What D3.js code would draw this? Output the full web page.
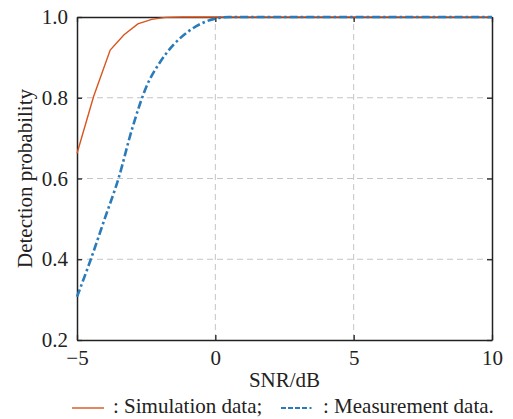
<!DOCTYPE html>
<html>
<head>
<meta charset="utf-8">
<script src="https://cdn.jsdelivr.net/npm/d3@7"></script>
<style>
  body { margin: 0; background: #fff; }
  svg text { font-family: "Liberation Serif", "Times New Roman", serif; fill: #222; }
</style>
</head>
<body>
<svg id="chart" width="513" height="419"></svg>
<script>
// detection probability vs SNR
var simSnr  = [-5, -4.4, -3.8, -3.3, -2.8, -2.3, -1.8, -1.2, 0, 2, 4, 6, 8, 10];
var simPd   = [0.662, 0.803, 0.918, 0.956, 0.983, 0.994, 0.999, 1, 1, 1, 1, 1, 1, 1];
var measSnr = [-5, -4.5, -4, -3.5, -3, -2.5, -2, -1.5, -1, -0.5, 0, 0.5, 1, 2, 4, 6, 8, 10];
var measPd  = [0.307, 0.40, 0.50, 0.60, 0.725, 0.826, 0.888, 0.932, 0.963, 0.984, 0.996, 1, 1, 1, 1, 1, 1, 1];
var xTicks = [-5, 0, 5, 10];
var yTicks = [0.2, 0.4, 0.6, 0.8, 1.0];

var m = {left: 77, right: 21, top: 17, bottom: 79};
var W = 513, H = 419;
var FS = "21px";
var svg = d3.select("#chart");

var x = d3.scaleLinear().domain([-5, 10]).range([m.left, W - m.right]);
var y = d3.scaleLinear().domain([0.2, 1.0]).range([H - m.bottom, m.top]);

var g = svg.append("g");

// dashed grid, inner lines only
g.selectAll(".gx").data(xTicks.slice(1, -1)).enter().append("line")
    .attr("x1", function(d) { return x(d); }).attr("x2", function(d) { return x(d); })
    .attr("y1", y(0.2)).attr("y2", y(1))
    .attr("stroke", "#c4c4c4").attr("stroke-width", 1).attr("stroke-dasharray", "6,4");
g.selectAll(".gy").data(yTicks.slice(1, -1)).enter().append("line")
    .attr("x1", x(-5)).attr("x2", x(10))
    .attr("y1", function(d) { return y(d); }).attr("y2", function(d) { return y(d); })
    .attr("stroke", "#c4c4c4").attr("stroke-width", 1).attr("stroke-dasharray", "6,4");

// axes with inward ticks on all four sides
var fmtY = d3.format(".1f");
function styleAxis(sel) {
  sel.select(".domain").attr("stroke", "#222").attr("stroke-width", 1.5);
  sel.selectAll(".tick line").attr("stroke", "#222").attr("stroke-width", 1.3);
  sel.selectAll(".tick text").style("font-size", FS).attr("fill", "#222");
}
svg.append("g").attr("transform", "translate(0," + y(0.2) + ")")
  .call(d3.axisBottom(x).tickValues(xTicks).tickSizeInner(-5).tickSizeOuter(0).tickPadding(10)
        .tickFormat(function(d) { return d < 0 ? "\u2212" + Math.abs(d) : d; }))
  .call(styleAxis);
svg.append("g").attr("transform", "translate(" + x(-5) + ",0)")
  .call(d3.axisLeft(y).tickValues(yTicks).tickSizeInner(-5).tickSizeOuter(0).tickPadding(9).tickFormat(fmtY))
  .call(styleAxis);
svg.append("g").attr("transform", "translate(0," + y(1) + ")")
  .call(d3.axisTop(x).tickValues(xTicks).tickSizeInner(-5).tickSizeOuter(0).tickFormat(""))
  .call(styleAxis);
svg.append("g").attr("transform", "translate(" + x(10) + ",0)")
  .call(d3.axisRight(y).tickValues(yTicks).tickSizeInner(-5).tickSizeOuter(0).tickFormat(""))
  .call(styleAxis);

// curves
var simLine = d3.line()
    .x(function(d, i) { return x(simSnr[i]); })
    .y(function(d) { return y(d); });
var measLine = d3.line()
    .x(function(d, i) { return x(measSnr[i]); })
    .y(function(d) { return y(d); })
    .curve(d3.curveMonotoneX);

svg.append("path").datum(simPd).attr("d", simLine)
    .attr("fill", "none").attr("stroke", "#d9541e").attr("stroke-width", 1.4);
svg.append("path").datum(measPd).attr("d", measLine)
    .attr("fill", "none").attr("stroke", "#2b7bba").attr("stroke-width", 2.6)
    .attr("stroke-dasharray", "8,3,2.5,3");

// axis titles
svg.append("text").attr("x", (x(-5) + x(10)) / 2).attr("y", 387)
    .attr("text-anchor", "middle").style("font-size", FS).text("SNR/dB");
svg.append("text").attr("transform", "translate(32," + (y(0.2) + y(1)) / 2 + ") rotate(-90)")
    .attr("text-anchor", "middle").style("font-size", FS).text("Detection probability");

// legend under the x title
var leg = svg.append("g").attr("transform", "translate(0,408)");
leg.append("line").attr("x1", 72).attr("x2", 104).attr("y1", 0).attr("y2", 0)
    .attr("stroke", "#d9541e").attr("stroke-width", 1.4);
leg.append("text").attr("x", 113).attr("y", 5).style("font-size", FS).text(": Simulation data;");
leg.append("line").attr("x1", 281).attr("x2", 313).attr("y1", 0).attr("y2", 0)
    .attr("stroke", "#2b7bba").attr("stroke-width", 2.2).attr("stroke-dasharray", "5,2,5,2,5,2,5,2.5,2,2.5");
leg.append("text").attr("x", 323).attr("y", 5).style("font-size", FS).text(": Measurement data.");
</script>
</body>
</html>
